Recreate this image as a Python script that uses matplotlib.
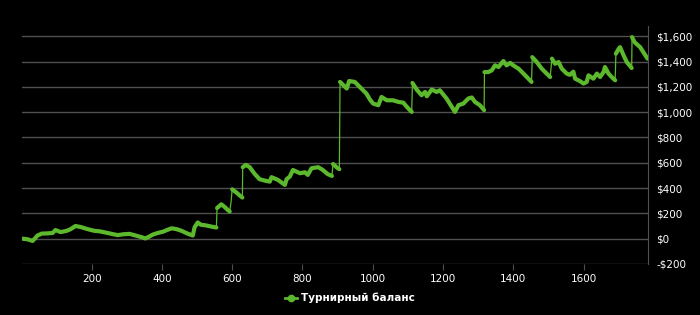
import matplotlib
matplotlib.use("Agg")
import matplotlib.pyplot as plt
from matplotlib.lines import Line2D
from matplotlib.ticker import FuncFormatter
import numpy as np

# турнирный баланс (игра, $)
games = [3, 18, 32, 46, 58, 75, 89, 97, 112, 129, 140, 154, 169, 189, 208, 223,
         237, 257, 274, 291, 308, 325, 342, 353, 363, 374, 388, 403, 416, 428,
         442, 456, 473, 488, 493, 502, 511, 525, 542, 555, 557, 569, 579, 587,
         593, 597, 600, 612, 622, 629, 630, 639, 650, 664, 678, 693, 707, 712,
         730, 750, 755, 764, 773, 793, 807, 815, 826, 845, 858, 872, 884, 887,
         897, 905, 907, 914, 926, 933, 949, 963, 982, 992, 1001, 1016, 1025,
         1040, 1058, 1073, 1087, 1097, 1106, 1111, 1113, 1125, 1139, 1149, 1154,
         1168, 1182, 1191, 1210, 1225, 1234, 1244, 1258, 1272, 1282, 1291, 1305,
         1317, 1318, 1329, 1339, 1348, 1358, 1367, 1372, 1381, 1391, 1400, 1415,
         1429, 1443, 1452, 1454, 1467, 1481, 1495, 1505, 1510, 1519, 1529, 1538,
         1552, 1561, 1571, 1576, 1590, 1600, 1609, 1614, 1628, 1638, 1647, 1657,
         1661, 1671, 1680, 1690, 1692, 1700, 1704, 1714, 1723, 1737, 1738, 1745,
         1761, 1770, 1782]
balance = [0, -5, -18, 25, 40, 42, 45, 68, 52, 62, 75, 100, 92, 75, 62, 58,
           50, 38, 28, 35, 38, 25, 12, 2, 15, 32, 45, 55, 70, 82,
           75, 62, 40, 25, 90, 128, 110, 105, 95, 88, 242, 272, 250, 228,
           215, 294, 390, 365, 340, 325, 565, 583, 565, 512, 470, 459, 451, 486,
           465, 425, 470, 491, 543, 517, 525, 504, 557, 565, 543, 510, 496, 590,
           565, 549, 1239, 1220, 1187, 1246, 1239, 1200, 1147, 1100, 1068, 1055, 1120,
           1094, 1094, 1081, 1075, 1042, 1016, 1002, 1231, 1179, 1134, 1160, 1126,
           1179, 1160, 1173, 1108, 1042, 1002, 1055, 1068, 1108, 1116, 1081, 1055,
           1016, 1317, 1317, 1331, 1370, 1357, 1388, 1404, 1370, 1390, 1370, 1344,
           1305, 1265, 1239, 1435, 1396, 1344, 1305, 1278, 1423, 1383, 1396, 1344,
           1305, 1295, 1320, 1265, 1245, 1226, 1239, 1291, 1265, 1305, 1278, 1317,
           1357, 1305, 1278, 1252, 1462, 1501, 1514, 1449, 1396, 1349, 1593, 1554,
           1514, 1475, 1423]

green = '#5cb82c'
grid_c = '#505050'

fig = plt.figure(figsize=(7, 3.15), dpi=100, facecolor='black')
ax = fig.add_axes([0.031, 0.162, 0.895, 0.755], facecolor='black')

g = np.array(games)
b = np.array(balance)
# тонкая линия целиком (видна на скачках)
ax.plot(g, b, color=green, lw=0.9, zorder=3)
# толстые куски между скачками
cuts = np.where(np.abs(np.diff(b)) > 75)[0] + 1
for seg_g, seg_b in zip(np.split(g, cuts), np.split(b, cuts)):
    ax.plot(seg_g, seg_b, color=green, lw=3.0, solid_capstyle='round',
            solid_joinstyle='round', zorder=4)

ax.set_xlim(1, 1784)
ax.set_ylim(-200, 1680)
ax.set_xticks(range(200, 1601, 200))
ax.set_yticks(range(-200, 1601, 200))
ax.yaxis.set_major_formatter(FuncFormatter(
    lambda v, p: ('-$' if v < 0 else '$') + format(int(abs(v)), ',')))
ax.yaxis.tick_right()
ax.grid(axis='y', color=grid_c, lw=1)
for s in ['top', 'left', 'bottom']:
    ax.spines[s].set_visible(False)
ax.spines['right'].set_color(grid_c)
ax.tick_params(axis='y', length=0, pad=6, labelcolor='white', labelsize=7.5)
ax.tick_params(axis='x', length=4, color=grid_c, direction='out', pad=3,
               labelcolor='white', labelsize=7.5)

handle = Line2D([], [], color=green, lw=2, marker='o', markersize=4.5)
leg = fig.legend([handle], ['Турнирный баланс'], loc='center',
                 bbox_to_anchor=(0.5, 0.054), frameon=False, handlelength=1.2,
                 handletextpad=0.4, prop={'size': 7.5, 'weight': 'bold'})
for t in leg.get_texts():
    t.set_color('white')

fig.savefig('out.png', dpi=100, facecolor='black')
